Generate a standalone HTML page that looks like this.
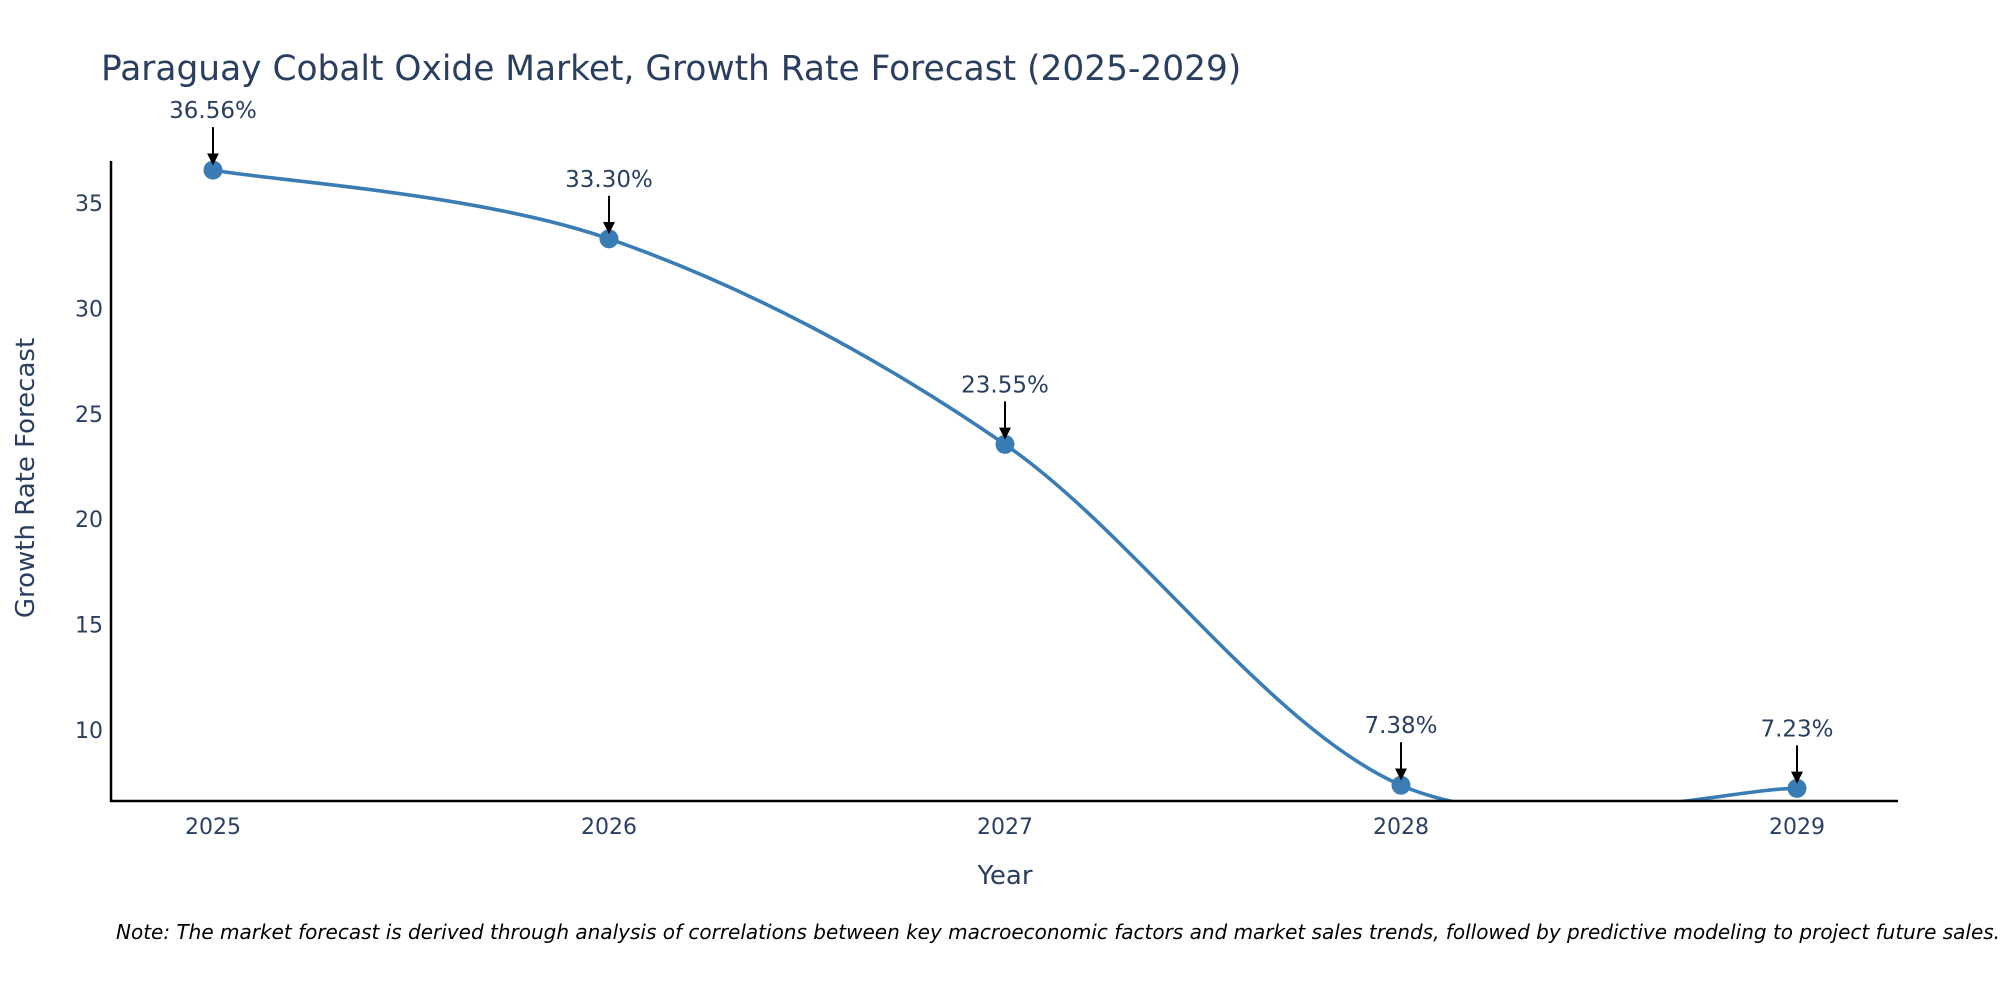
<!DOCTYPE html>
<html><head><meta charset="utf-8"><style>
body{margin:0;background:#fff;}
svg text{font-family:"DejaVu Sans","Liberation Sans",sans-serif;fill:#2a3f5f;}
</style></head><body>
<svg id="chart" width="2000" height="1000" xmlns="http://www.w3.org/2000/svg">
<text x="101" y="80" font-size="34.4">Paraguay Cobalt Oxide Market, Growth Rate Forecast (2025-2029)</text>
<defs><clipPath id="clip"><rect x="111" y="150" width="1787" height="651"/></clipPath>
<marker id="arr" viewBox="0 0 10 10" refX="9" refY="5" markerWidth="6" markerHeight="6" orient="auto"><path d="M0,0L10,5L0,10z" fill="#000"/></marker></defs>
<g id="yticks"></g><g id="xticks"></g>
<path id="line" clip-path="url(#clip)" fill="none" stroke="#3a7db4" stroke-width="3.6"/>
<g id="points"></g><g id="annos"></g>
<line x1="111" y1="161" x2="111" y2="802" stroke="#000" stroke-width="2.5"/>
<line x1="110" y1="801" x2="1898" y2="801" stroke="#000" stroke-width="2.5"/>
<text x="1005" y="884" font-size="26" text-anchor="middle">Year</text>
<text transform="translate(34,478) rotate(-90)" font-size="26" text-anchor="middle">Growth Rate Forecast</text>
<text x="116" y="939" font-size="20" font-style="italic" style="fill:#000">Note: The market forecast is derived through analysis of correlations between key macroeconomic factors and market sales trends, followed by predictive modeling to project future sales.</text>
</svg>
<script>
const years=["2025","2026","2027","2028","2029"];
const values=[36.56,33.30,23.55,7.38,7.23];
const labels=["36.56%","33.30%","23.55%","7.38%","7.23%"];
const yTicks=[10,15,20,25,30,35];
const NS="http://www.w3.org/2000/svg";
const xs=i=>213+i*396;
const ys=v=>730-(v-10)*21.08;
function mk(t,a,p){const e=document.createElementNS(NS,t);for(const k in a)e.setAttribute(k,a[k]);p.appendChild(e);return e;}
const yt=document.getElementById('yticks');
yTicks.forEach(v=>{const t=mk('text',{x:103,y:ys(v)+8,'font-size':22,'text-anchor':'end'},yt);t.textContent=v;

});
const xt=document.getElementById('xticks');
years.forEach((y,i)=>{const t=mk('text',{x:xs(i),y:834,'font-size':22,'text-anchor':'middle'},xt);t.textContent=y;

});
const P=values.map((v,i)=>[xs(i),ys(v)]);
let d=`M${P[0][0]},${P[0][1]}`;
const s=0.33;
for(let i=0;i<P.length-1;i++){
 const p0=P[Math.max(i-1,0)],p1=P[i],p2=P[i+1],p3=P[Math.min(i+2,P.length-1)];
 const c1=[p1[0]+(p2[0]-p0[0])*s/2,p1[1]+(p2[1]-p0[1])*s/2];
 const c2=[p2[0]-(p3[0]-p1[0])*s/2,p2[1]-(p3[1]-p1[1])*s/2];
 d+=` C${c1[0]},${c1[1]} ${c2[0]},${c2[1]} ${p2[0]},${p2[1]}`;}
document.getElementById('line').setAttribute('d',d);
const pts=document.getElementById('points'),an=document.getElementById('annos');
P.forEach((p,i)=>{
 const c=mk('circle',{cx:p[0],cy:p[1],r:9.5,fill:'#3a7db4'},pts);
 
 
 const l=mk('line',{x1:p[0],y1:p[1]-43,x2:p[0],y2:p[1]-6,stroke:'#000','stroke-width':2,'marker-end':'url(#arr)'},an);
 
 
 const t=mk('text',{x:p[0],y:p[1]-52,'font-size':23,'text-anchor':'middle'},an);t.textContent=labels[i];
 
 
});
</script>
</body></html>
